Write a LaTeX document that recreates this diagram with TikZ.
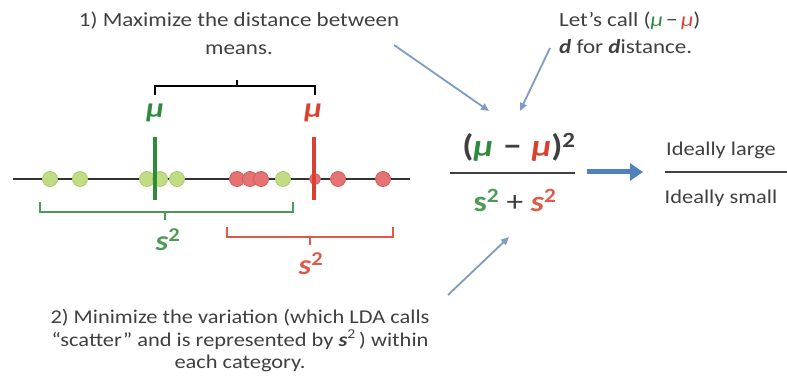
\documentclass[tikz,border=0pt]{standalone}
\usepackage{fontspec}
\setmainfont[FakeStretch=1.15]{Carlito}
\usetikzlibrary{arrows.meta}
\definecolor{txt}{HTML}{404040}
\definecolor{gmu}{HTML}{2E8B3E}
\definecolor{rmu}{HTML}{D9402E}
\definecolor{gbr}{HTML}{4C9A55}
\definecolor{rbr}{HTML}{E0584A}
\definecolor{gdot}{HTML}{C2DC86}
\definecolor{gdotb}{HTML}{A9C96A}
\definecolor{rdot}{HTML}{E57373}
\definecolor{rdotb}{HTML}{D45A5A}
\definecolor{pointer}{HTML}{7F9CC0}
\definecolor{bigarrow}{HTML}{4F81BD}
\begin{document}
\begin{tikzpicture}[x=1pt,y=-1pt,
  lbl/.style={text=txt,inner sep=0pt},
  gdt/.style={circle,fill=gdot,draw=gdotb,line width=0.8pt,minimum size=15pt,inner sep=0pt},
  rdt/.style={circle,fill=rdot,draw=rdotb,line width=0.8pt,minimum size=15pt,inner sep=0pt},
  ptr/.style={draw=pointer,line width=1.8pt,-{Triangle[length=8pt,width=7pt]}},
  brk/.style={line width=1.5pt}]
\useasboundingbox (0,0) rectangle (787,387);

% texts
\node[lbl,align=center,font=\fontsize{20}{28}\selectfont] (t1) at (239,33)
  {1) Maximize the distance between\\means.};
\node[lbl,anchor=west,align=left,font=\fontsize{20}{27}\selectfont] (t2) at (559,33)
  {Let’s call (\textcolor{gmu}{\textit{μ}}\,−\,\textcolor{rmu}{\textit{μ}})\\\textbf{\textit{d}} for \textbf{\textit{d}}istance.};
\node[lbl,align=center,font=\fontsize{19.5}{22.5}\selectfont] (t3) at (240,341)
  {2) Minimize the variation (which LDA calls\\“scatter” and is represented by \textbf{\textit{s}}\textsuperscript{2}\,) within\\each category.};

% top bracket
\coordinate (tb1) at (155,95);
\coordinate (tb2) at (315,95);
\coordinate (tbc) at (237,80);
\draw[brk,black] (tb1) -- (155,86) -- (315,86) -- (tb2);
\draw[brk,black] (237,86) -- (tbc);

% mu labels
\node[inner sep=0pt,text=gmu,font=\fontsize{28}{30}\selectfont\bfseries\itshape] (mug) at (155,113) {μ};
\node[inner sep=0pt,text=rmu,font=\fontsize{28}{30}\selectfont\bfseries\itshape] (mur) at (313,113) {μ};

% axis
\coordinate (axl) at (13,179);
\coordinate (axr) at (410,179);
\draw[line width=1.6pt,black!80] (axl) -- (axr);

% dots
\node[gdt] (g1) at (50,179) {};
\node[gdt] (g2) at (80,179) {};
\node[gdt] (g3) at (147,179) {};
\node[gdt] (g4) at (160,179) {};
\node[gdt] (g5) at (177,179) {};
\node[rdt] (r1) at (237,179) {};
\node[rdt] (r2) at (250,179) {};
\node[rdt] (r3) at (261,179) {};
\node[gdt] (g6) at (283,179) {};
\node[rdt,minimum size=11pt] (r4) at (315,179) {};
\node[rdt] (r5) at (338,179) {};
\node[rdt] (r6) at (383,179) {};

% mean bars
\draw[line width=4pt,gmu] (155,137) -- (155,200);
\draw[line width=4pt,rmu] (314,137) -- (314,200);

% green bracket
\draw[brk,gbr] (40,202) -- (40,212) -- (293,212) -- (293,202);
\draw[brk,gbr] (165,212) -- (165,220);
\node[inner sep=0pt,text=gbr,font=\fontsize{28}{30}\selectfont\bfseries] (sg) at (168,240) {\textit{s}\textsuperscript{2}};

% red bracket
\draw[brk,rbr] (227,227) -- (227,237) -- (393,237) -- (393,227);
\draw[brk,rbr] (310,237) -- (310,245);
\node[inner sep=0pt,text=rbr,font=\fontsize{28}{30}\selectfont\bfseries] (sr) at (311,264) {\textit{s}\textsuperscript{2}};

% formula
\node[inner sep=0pt,text=txt,font=\fontsize{31}{33}\selectfont\bfseries] (num) at (519,147)
  {(\textcolor{gmu}{\textit{μ}}\,\,−\,\,\textcolor{rmu}{\textit{μ}})\textsuperscript{2}};
\coordinate (fl) at (450,173);
\coordinate (fr) at (575,173);
\draw[line width=2pt,black!75] (fl) -- (fr);
\node[inner sep=0pt,text=txt,font=\fontsize{29}{31}\selectfont] (den) at (515,200)
  {\textcolor{gbr}{\textbf{s}\textsuperscript{\textbf{2}}} + \textcolor{rbr}{\textbf{\textit{s}}\textsuperscript{\textbf{2}}}};

% big arrow
\coordinate (ba1) at (587,172);
\coordinate (ba2) at (643,172);
\draw[bigarrow,line width=5pt,-{Triangle[length=13pt,width=17pt]}] (ba1) -- (ba2);

% right fraction
\node[lbl,font=\fontsize{19.5}{21}\selectfont] (il) at (721,150) {Ideally large};
\coordinate (rl1) at (665,172);
\coordinate (rl2) at (787,172);
\draw[line width=1.6pt,black!75] (rl1) -- (rl2);
\node[lbl,font=\fontsize{19.5}{21}\selectfont] (is) at (721,198) {Ideally small};

% pointer arrows
\coordinate (p1s) at (394,45);
\coordinate (p1e) at (489,111);
\coordinate (p2s) at (550,48);
\coordinate (p2e) at (520,111);
\coordinate (p3s) at (448,295);
\coordinate (p3e) at (509,237);
\draw[ptr] (p1s) -- (p1e);
\draw[ptr] (p2s) -- (p2e);
\draw[ptr] (p3s) -- (p3e);
\end{tikzpicture}
\end{document}
